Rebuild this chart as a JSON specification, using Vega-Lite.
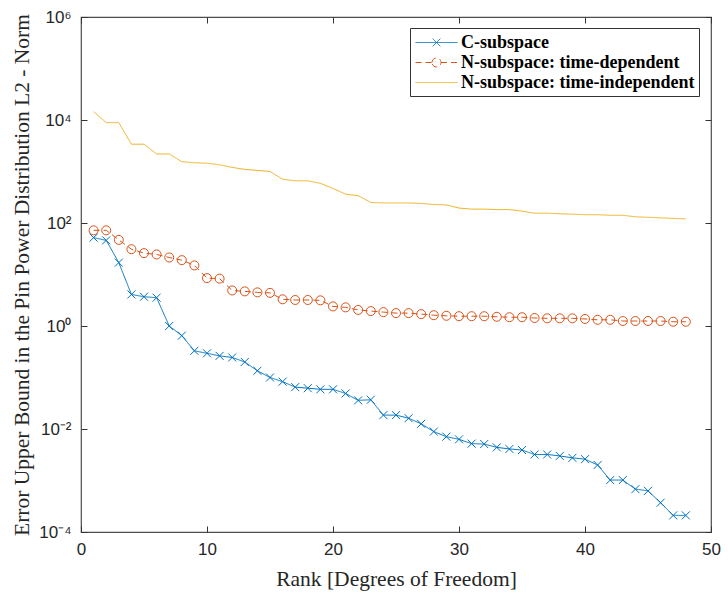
{
  "$schema": "https://vega.github.io/schema/vega-lite/v6.json",
  "width": 630,
  "height": 515,
  "autosize": {"type": "none"},
  "padding": {"left": 81, "top": 17, "right": 17, "bottom": 65},
  "background": "white",
  "config": {
    "view": {"stroke": "#4d4d4d", "strokeWidth": 1.2},
    "axis": {
      "grid": false,
      "domain": false,
      "tickColor": "#333333",
      "tickSize": -6,
      "tickWidth": 1,
      "labelFont": "Liberation Sans",
      "labelFontSize": 17,
      "labelColor": "#262626",
      "labelFlush": false,
      "labelOverlap": false,
      "labelBound": false,
      "titleFont": "Liberation Serif",
      "titleFontSize": 21.5,
      "titleFontWeight": "normal",
      "titleColor": "#262626"
    }
  },
  "datasets": {
    "errors": [
      {"rank": 1, "series": "C-subspace", "error": 52},
      {"rank": 2, "series": "C-subspace", "error": 46},
      {"rank": 3, "series": "C-subspace", "error": 17},
      {"rank": 4, "series": "C-subspace", "error": 4.1},
      {"rank": 5, "series": "C-subspace", "error": 3.7},
      {"rank": 6, "series": "C-subspace", "error": 3.55},
      {"rank": 7, "series": "C-subspace", "error": 1.0},
      {"rank": 8, "series": "C-subspace", "error": 0.65},
      {"rank": 9, "series": "C-subspace", "error": 0.33},
      {"rank": 10, "series": "C-subspace", "error": 0.295},
      {"rank": 11, "series": "C-subspace", "error": 0.263},
      {"rank": 12, "series": "C-subspace", "error": 0.245},
      {"rank": 13, "series": "C-subspace", "error": 0.2},
      {"rank": 14, "series": "C-subspace", "error": 0.135},
      {"rank": 15, "series": "C-subspace", "error": 0.1},
      {"rank": 16, "series": "C-subspace", "error": 0.083},
      {"rank": 17, "series": "C-subspace", "error": 0.065},
      {"rank": 18, "series": "C-subspace", "error": 0.062},
      {"rank": 19, "series": "C-subspace", "error": 0.059},
      {"rank": 20, "series": "C-subspace", "error": 0.059},
      {"rank": 21, "series": "C-subspace", "error": 0.049},
      {"rank": 22, "series": "C-subspace", "error": 0.036},
      {"rank": 23, "series": "C-subspace", "error": 0.037},
      {"rank": 24, "series": "C-subspace", "error": 0.0186},
      {"rank": 25, "series": "C-subspace", "error": 0.0186},
      {"rank": 26, "series": "C-subspace", "error": 0.0162},
      {"rank": 27, "series": "C-subspace", "error": 0.0126},
      {"rank": 28, "series": "C-subspace", "error": 0.0089},
      {"rank": 29, "series": "C-subspace", "error": 0.0071},
      {"rank": 30, "series": "C-subspace", "error": 0.0063},
      {"rank": 31, "series": "C-subspace", "error": 0.0052},
      {"rank": 32, "series": "C-subspace", "error": 0.0051},
      {"rank": 33, "series": "C-subspace", "error": 0.0044},
      {"rank": 34, "series": "C-subspace", "error": 0.0041},
      {"rank": 35, "series": "C-subspace", "error": 0.0039},
      {"rank": 36, "series": "C-subspace", "error": 0.0032},
      {"rank": 37, "series": "C-subspace", "error": 0.0032},
      {"rank": 38, "series": "C-subspace", "error": 0.003},
      {"rank": 39, "series": "C-subspace", "error": 0.00275},
      {"rank": 40, "series": "C-subspace", "error": 0.0026},
      {"rank": 41, "series": "C-subspace", "error": 0.002},
      {"rank": 42, "series": "C-subspace", "error": 0.00102},
      {"rank": 43, "series": "C-subspace", "error": 0.00102},
      {"rank": 44, "series": "C-subspace", "error": 0.00068},
      {"rank": 45, "series": "C-subspace", "error": 0.00063},
      {"rank": 46, "series": "C-subspace", "error": 0.00037},
      {"rank": 47, "series": "C-subspace", "error": 0.00021},
      {"rank": 48, "series": "C-subspace", "error": 0.00021},
      {"rank": 1, "series": "N-subspace: time-dependent", "error": 72},
      {"rank": 2, "series": "N-subspace: time-dependent", "error": 72},
      {"rank": 3, "series": "N-subspace: time-dependent", "error": 47},
      {"rank": 4, "series": "N-subspace: time-dependent", "error": 31},
      {"rank": 5, "series": "N-subspace: time-dependent", "error": 26},
      {"rank": 6, "series": "N-subspace: time-dependent", "error": 24.5},
      {"rank": 7, "series": "N-subspace: time-dependent", "error": 21.4},
      {"rank": 8, "series": "N-subspace: time-dependent", "error": 19},
      {"rank": 9, "series": "N-subspace: time-dependent", "error": 15},
      {"rank": 10, "series": "N-subspace: time-dependent", "error": 8.5},
      {"rank": 11, "series": "N-subspace: time-dependent", "error": 8.3},
      {"rank": 12, "series": "N-subspace: time-dependent", "error": 4.9},
      {"rank": 13, "series": "N-subspace: time-dependent", "error": 4.7},
      {"rank": 14, "series": "N-subspace: time-dependent", "error": 4.5},
      {"rank": 15, "series": "N-subspace: time-dependent", "error": 4.4},
      {"rank": 16, "series": "N-subspace: time-dependent", "error": 3.3},
      {"rank": 17, "series": "N-subspace: time-dependent", "error": 3.2},
      {"rank": 18, "series": "N-subspace: time-dependent", "error": 3.2},
      {"rank": 19, "series": "N-subspace: time-dependent", "error": 3.15},
      {"rank": 20, "series": "N-subspace: time-dependent", "error": 2.4},
      {"rank": 21, "series": "N-subspace: time-dependent", "error": 2.3},
      {"rank": 22, "series": "N-subspace: time-dependent", "error": 2.05},
      {"rank": 23, "series": "N-subspace: time-dependent", "error": 1.95},
      {"rank": 24, "series": "N-subspace: time-dependent", "error": 1.86},
      {"rank": 25, "series": "N-subspace: time-dependent", "error": 1.78},
      {"rank": 26, "series": "N-subspace: time-dependent", "error": 1.78},
      {"rank": 27, "series": "N-subspace: time-dependent", "error": 1.7},
      {"rank": 28, "series": "N-subspace: time-dependent", "error": 1.62},
      {"rank": 29, "series": "N-subspace: time-dependent", "error": 1.58},
      {"rank": 30, "series": "N-subspace: time-dependent", "error": 1.55},
      {"rank": 31, "series": "N-subspace: time-dependent", "error": 1.55},
      {"rank": 32, "series": "N-subspace: time-dependent", "error": 1.55},
      {"rank": 33, "series": "N-subspace: time-dependent", "error": 1.51},
      {"rank": 34, "series": "N-subspace: time-dependent", "error": 1.48},
      {"rank": 35, "series": "N-subspace: time-dependent", "error": 1.48},
      {"rank": 36, "series": "N-subspace: time-dependent", "error": 1.43},
      {"rank": 37, "series": "N-subspace: time-dependent", "error": 1.41},
      {"rank": 38, "series": "N-subspace: time-dependent", "error": 1.41},
      {"rank": 39, "series": "N-subspace: time-dependent", "error": 1.41},
      {"rank": 40, "series": "N-subspace: time-dependent", "error": 1.37},
      {"rank": 41, "series": "N-subspace: time-dependent", "error": 1.32},
      {"rank": 42, "series": "N-subspace: time-dependent", "error": 1.32},
      {"rank": 43, "series": "N-subspace: time-dependent", "error": 1.25},
      {"rank": 44, "series": "N-subspace: time-dependent", "error": 1.25},
      {"rank": 45, "series": "N-subspace: time-dependent", "error": 1.25},
      {"rank": 46, "series": "N-subspace: time-dependent", "error": 1.25},
      {"rank": 47, "series": "N-subspace: time-dependent", "error": 1.21},
      {"rank": 48, "series": "N-subspace: time-dependent", "error": 1.21},
      {"rank": 1, "series": "N-subspace: time-independent", "error": 14500},
      {"rank": 2, "series": "N-subspace: time-independent", "error": 8900},
      {"rank": 3, "series": "N-subspace: time-independent", "error": 8900},
      {"rank": 4, "series": "N-subspace: time-independent", "error": 3390},
      {"rank": 5, "series": "N-subspace: time-independent", "error": 3390},
      {"rank": 6, "series": "N-subspace: time-independent", "error": 2190},
      {"rank": 7, "series": "N-subspace: time-independent", "error": 2190},
      {"rank": 8, "series": "N-subspace: time-independent", "error": 1550},
      {"rank": 9, "series": "N-subspace: time-independent", "error": 1480},
      {"rank": 10, "series": "N-subspace: time-independent", "error": 1445},
      {"rank": 11, "series": "N-subspace: time-independent", "error": 1350},
      {"rank": 12, "series": "N-subspace: time-independent", "error": 1200},
      {"rank": 13, "series": "N-subspace: time-independent", "error": 1100},
      {"rank": 14, "series": "N-subspace: time-independent", "error": 1050},
      {"rank": 15, "series": "N-subspace: time-independent", "error": 1000},
      {"rank": 16, "series": "N-subspace: time-independent", "error": 708},
      {"rank": 17, "series": "N-subspace: time-independent", "error": 660},
      {"rank": 18, "series": "N-subspace: time-independent", "error": 660},
      {"rank": 19, "series": "N-subspace: time-independent", "error": 590},
      {"rank": 20, "series": "N-subspace: time-independent", "error": 468},
      {"rank": 21, "series": "N-subspace: time-independent", "error": 363},
      {"rank": 22, "series": "N-subspace: time-independent", "error": 339},
      {"rank": 23, "series": "N-subspace: time-independent", "error": 251},
      {"rank": 24, "series": "N-subspace: time-independent", "error": 245},
      {"rank": 25, "series": "N-subspace: time-independent", "error": 245},
      {"rank": 26, "series": "N-subspace: time-independent", "error": 245},
      {"rank": 27, "series": "N-subspace: time-independent", "error": 240},
      {"rank": 28, "series": "N-subspace: time-independent", "error": 229},
      {"rank": 29, "series": "N-subspace: time-independent", "error": 224},
      {"rank": 30, "series": "N-subspace: time-independent", "error": 195},
      {"rank": 31, "series": "N-subspace: time-independent", "error": 186},
      {"rank": 32, "series": "N-subspace: time-independent", "error": 186},
      {"rank": 33, "series": "N-subspace: time-independent", "error": 182},
      {"rank": 34, "series": "N-subspace: time-independent", "error": 182},
      {"rank": 35, "series": "N-subspace: time-independent", "error": 170},
      {"rank": 36, "series": "N-subspace: time-independent", "error": 155},
      {"rank": 37, "series": "N-subspace: time-independent", "error": 155},
      {"rank": 38, "series": "N-subspace: time-independent", "error": 151},
      {"rank": 39, "series": "N-subspace: time-independent", "error": 148},
      {"rank": 40, "series": "N-subspace: time-independent", "error": 145},
      {"rank": 41, "series": "N-subspace: time-independent", "error": 145},
      {"rank": 42, "series": "N-subspace: time-independent", "error": 141},
      {"rank": 43, "series": "N-subspace: time-independent", "error": 141},
      {"rank": 44, "series": "N-subspace: time-independent", "error": 132},
      {"rank": 45, "series": "N-subspace: time-independent", "error": 129},
      {"rank": 46, "series": "N-subspace: time-independent", "error": 126},
      {"rank": 47, "series": "N-subspace: time-independent", "error": 123},
      {"rank": 48, "series": "N-subspace: time-independent", "error": 120}
    ]
  },
  "data": {"name": "errors"},
  "resolve": {"axis": {"x": "independent", "y": "independent"}},
  "layer": [
    {
      "mark": {"type": "line", "strokeWidth": 1},
      "encoding": {
        "x": {
          "field": "rank", "type": "quantitative",
          "scale": {"domain": [0, 50], "nice": false, "zero": false},
          "axis": {"orient": "bottom", "values": [0, 10, 20, 30, 40, 50], "labelPadding": 15, "title": "Rank [Degrees of Freedom]", "titlePadding": 11}
        },
        "y": {
          "field": "error", "type": "quantitative",
          "scale": {"type": "log", "domain": [0.0001, 1000000], "nice": false},
          "axis": {
            "orient": "left",
            "values": [0.0001, 0.01, 1, 100, 10000, 1000000],
            "labelPadding": 16,
            "labelExpr": "datum.value < 0.001 ? '10⁻⁴' : datum.value < 0.1 ? '10⁻²' : datum.value < 10 ? '10⁰' : datum.value < 1000 ? '10²' : datum.value < 100000 ? '10⁴' : '10⁶'",
            "title": "Error Upper Bound in the Pin Power Distribution L2 - Norm",
            "titlePadding": 5
          }
        },
        "color": {
          "field": "series", "type": "nominal",
          "scale": {
            "domain": ["C-subspace", "N-subspace: time-dependent", "N-subspace: time-independent"],
            "range": ["#0072BD", "#D95319", "#EDB120"]
          },
          "legend": {
            "title": null,
            "orient": "none",
            "legendX": 329,
            "legendY": 11,
            "padding": 4,
            "rowPadding": 0,
            "fillColor": "white",
            "strokeColor": "#333333",
            "labelFont": "Liberation Serif",
            "labelFontWeight": "bold",
            "labelFontSize": 18,
            "labelColor": "black",
            "labelLimit": 0,
            "labelOffset": 26,
            "symbolSize": 400,
            "symbolStrokeWidth": 1,
            "encode": {
              "symbols": {
                "update": {
                  "shape": {"signal": "datum.value == 'C-subspace' ? 'M-0.9,0L3.3,0M0.82,-0.38L1.58,0.38M0.82,0.38L1.58,-0.38' : datum.value == 'N-subspace: time-dependent' ? 'M-0.9,0L0.75,0M1.65,0L3.3,0M0.75,0A0.45,0.45 0 1,1 1.65,0A0.45,0.45 0 1,1 0.75,0' : 'M-0.9,0L3.3,0'"},
                  "strokeDash": {"signal": "datum.value == 'N-subspace: time-dependent' ? [5, 3] : [1, 0]"},
                  "fill": {"value": "transparent"}
                }
              }
            }
          }
        },
        "strokeDash": {
          "field": "series", "type": "nominal",
          "scale": {
            "domain": ["C-subspace", "N-subspace: time-dependent", "N-subspace: time-independent"],
            "range": [[1, 0], [6, 4], [1, 0]]
          },
          "legend": null
        }
      }
    },
    {
      "transform": [{"filter": "datum.series == 'C-subspace'"}],
      "mark": {"type": "point", "shape": "M-1,-1L1,1M-1,1L1,-1", "size": 64, "filled": false, "strokeWidth": 1, "color": "#0072BD", "opacity": 1},
      "encoding": {
        "x": {"field": "rank", "type": "quantitative", "axis": {"orient": "top", "values": [0, 10, 20, 30, 40, 50], "labels": false, "title": null}},
        "y": {"field": "error", "type": "quantitative", "axis": {"orient": "right", "values": [0.0001, 0.01, 1, 100, 10000, 1000000], "labels": false, "title": null}}
      }
    },
    {
      "transform": [{"filter": "datum.series == 'N-subspace: time-dependent'"}],
      "mark": {"type": "point", "shape": "circle", "size": 81, "filled": false, "strokeWidth": 1, "color": "#D95319", "opacity": 1},
      "encoding": {
        "x": {"field": "rank", "type": "quantitative", "axis": null},
        "y": {"field": "error", "type": "quantitative", "axis": null}
      }
    }
  ]
}
